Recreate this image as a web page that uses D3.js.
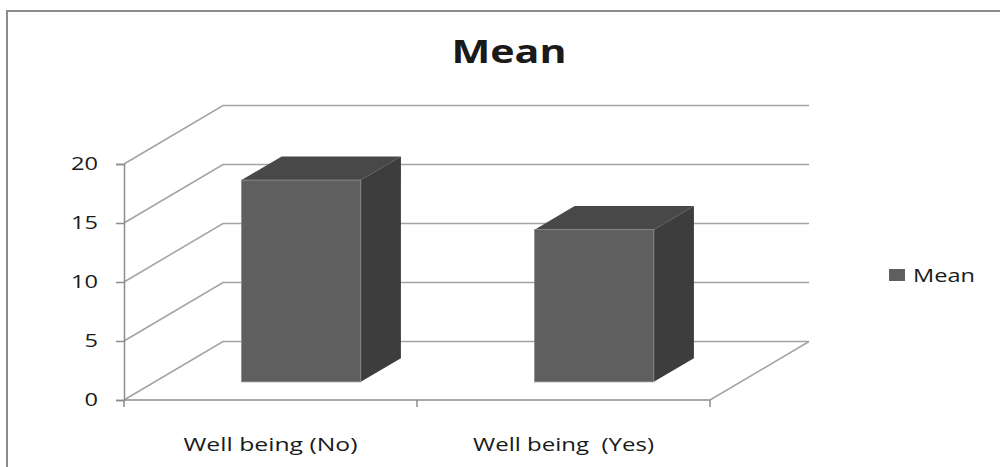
<!DOCTYPE html>
<html>
<head>
<meta charset="utf-8">
<script src="https://cdn.jsdelivr.net/npm/d3@7"></script>
<style>
  html, body { margin: 0; padding: 0; background: #fff; }
  text { font-family: "Open Sans", "Noto Sans", sans-serif; fill: #1a1a1a; }
</style>
</head>
<body>
<script>
/* global d3 */

const categories = ['Well being (No)', 'Well being  (Yes)']
const values = [17.1, 12.9]
const yTicks = [0, 5, 10, 15, 20]
const seriesName = 'Mean'
const titleText = 'Mean'

const w = 1000
const h = 467

// depth of the 3d box and where the bars sit inside it
const DX = 99
const DY = -58.5
const barFront = 0.31
const barBack = 0.715

const svg = d3.select('body').append('svg')
  .attr('width', w)
  .attr('height', h)

// outer frame (only top and left edges are visible)
svg.append('path')
  .attr('d', `M7,${h} L7,11 L${w},11`)
  .attr('fill', 'none')
  .attr('stroke', '#8c8c8c')
  .attr('stroke-width', 2)

const x = d3.scaleBand()
  .domain(categories)
  .range([124, 710])

const y = d3.scaleLinear()
  .domain([0, 20])
  .range([400, 164])

const grid = svg.append('g')
  .attr('stroke', '#a3a3a3')
  .attr('stroke-width', 1.5)
  .attr('fill', 'none')

// side wall diagonals + back wall lines
grid.selectAll('path.grid')
  .data(yTicks)
  .enter()
  .append('path')
    .attr('class', 'grid')
    .attr('d', d => {
      const x0 = x.range()[0]
      const x1 = x.range()[1]
      return `M${x0},${y(d)} L${x0 + DX},${y(d) + DY} L${x1 + DX},${y(d) + DY}`
    })

// floor right edge
grid.append('path')
  .attr('d', `M${x.range()[1]},${y(0)} L${x.range()[1] + DX},${y(0) + DY}`)

// bars
const bw = x.bandwidth() * 0.407
const ox1 = DX * barFront, oy1 = DY * barFront
const ox2 = DX * barBack, oy2 = DY * barBack

const bar = svg.selectAll('g.bar')
  .data(values)
  .enter()
  .append('g')
    .attr('class', 'bar')

function xc (i) { return x(categories[i]) + x.bandwidth() / 2 }

bar.append('path')
  .attr('fill', '#484848')
  .attr('d', (d, i) => {
    const a = xc(i) - bw / 2, b = xc(i) + bw / 2, t = y(d)
    return `M${a + ox1},${t + oy1} L${a + ox2},${t + oy2} L${b + ox2},${t + oy2} L${b + ox1},${t + oy1}Z`
  })

bar.append('path')
  .attr('fill', '#3d3d3d')
  .attr('d', (d, i) => {
    const b = xc(i) + bw / 2, t = y(d), z = y(0)
    return `M${b + ox1},${t + oy1} L${b + ox2},${t + oy2} L${b + ox2},${z + oy2} L${b + ox1},${z + oy1}Z`
  })

bar.append('rect')
  .attr('fill', '#5f5f5f')
  .attr('stroke', '#8a8a8a')
  .attr('stroke-width', 0.8)
  .attr('x', (d, i) => xc(i) - bw / 2 + ox1)
  .attr('y', d => y(d) + oy1)
  .attr('width', bw)
  .attr('height', d => y(0) - y(d))

// y axis
const yAxis = svg.append('g')
  .attr('transform', `translate(${x.range()[0]},0)`)
  .call(d3.axisLeft(y).tickValues(yTicks).tickSize(8).tickPadding(18))

yAxis.select('.domain').attr('stroke', '#8c8c8c').attr('stroke-width', 1.5)
yAxis.selectAll('.tick line').attr('stroke', '#8c8c8c').attr('stroke-width', 1.5)
yAxis.selectAll('.tick text')
  .style('font-size', '18px')
  .attr('fill', '#1a1a1a')
  .attr('textLength', d => String(d).length * 13.5)
  .attr('lengthAdjust', 'spacingAndGlyphs')

// x axis
const xAxis = svg.append('g')
  .attr('stroke', '#8c8c8c')
  .attr('stroke-width', 1.5)

xAxis.append('line')
  .attr('x1', x.range()[0]).attr('x2', x.range()[1])
  .attr('y1', y(0)).attr('y2', y(0))

xAxis.selectAll('line.tick')
  .data(categories.concat([null]))
  .enter()
  .append('line')
    .attr('class', 'tick')
    .attr('x1', (d, i) => x.range()[0] + i * x.step())
    .attr('x2', (d, i) => x.range()[0] + i * x.step())
    .attr('y1', y(0))
    .attr('y2', y(0) + 7)

const labelWidths = [174, 181]

svg.selectAll('text.cat')
  .data(categories)
  .enter()
  .append('text')
    .attr('class', 'cat')
    .attr('x', d => x(d) + x.bandwidth() / 2)
    .attr('y', 451)
    .attr('text-anchor', 'middle')
    .style('font-size', '18px')
    .style('white-space', 'pre')
    .attr('textLength', (d, i) => labelWidths[i])
    .attr('lengthAdjust', 'spacingAndGlyphs')
    .text(d => d)

// title
svg.append('text')
  .attr('x', 509)
  .attr('y', 63)
  .attr('text-anchor', 'middle')
  .style('font-size', '33px')
  .style('font-weight', 'bold')
  .attr('textLength', 115)
  .attr('lengthAdjust', 'spacingAndGlyphs')
  .text(titleText)

// legend
const legend = svg.append('g')
  .attr('transform', 'translate(889,269)')

legend.append('rect')
  .attr('width', 16)
  .attr('height', 12)
  .attr('fill', '#5f5f5f')

legend.append('text')
  .attr('x', 24)
  .attr('y', 13)
  .style('font-size', '18px')
  .attr('textLength', 62)
  .attr('lengthAdjust', 'spacingAndGlyphs')
  .text(seriesName)
</script>
</body>
</html>
